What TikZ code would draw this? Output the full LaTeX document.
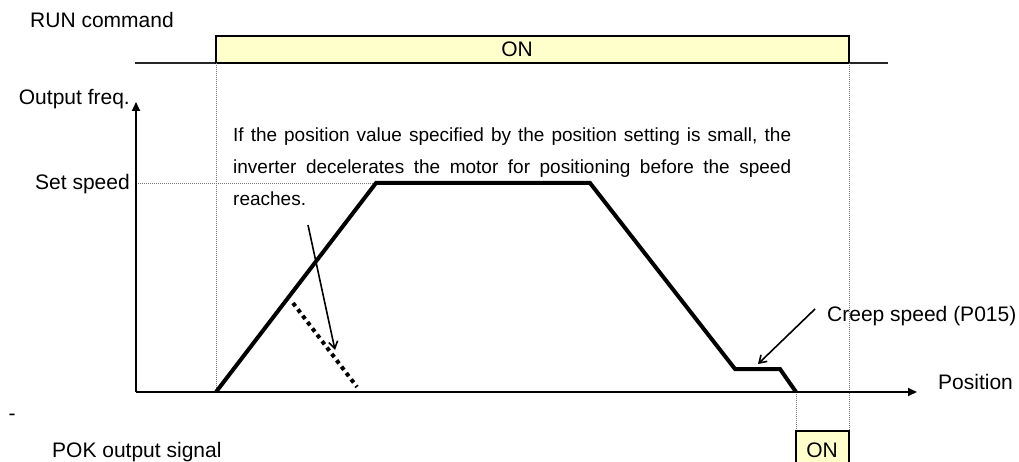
\documentclass[tikz,border=0pt]{standalone}
\usepackage{fontspec}
\setmainfont{Liberation Sans}
\usetikzlibrary{arrows.meta, positioning}
\definecolor{onyellow}{RGB}{255,255,204}

\begin{document}
\begin{tikzpicture}[
    x=1pt, y=-1pt,
    % Style definitions
    label/.style={inner sep=0pt, font=\fontsize{21}{25}\selectfont},
    note/.style={inner sep=0pt, text width=558pt, align=justify,
                 font=\fontsize{19}{32}\selectfont},
    signal/.style={draw=black, line width=1.7pt, fill=onyellow},
    guide/.style={draw=black!55, line width=0.9pt, dash pattern=on 1pt off 1pt},
    axis/.style={line width=2pt, -{Triangle[length=9pt, width=8pt]}},
    profile/.style={line width=4pt, line join=miter},
    pointer/.style={line width=1.6pt, -{Straight Barb[length=7pt, width=9pt]}},
]
\useasboundingbox (0,0) rectangle (1019,462);

% Key points
\coordinate (origin) at (136,392);
\coordinate (y_top) at (136,102);
\coordinate (x_end) at (917,392);
\coordinate (start) at (216,392);
\coordinate (acc_end) at (376,183);
\coordinate (dec_start) at (590,183);
\coordinate (creep_start) at (735,369);
\coordinate (creep_end) at (780,369);
\coordinate (stop) at (796,392);
\coordinate (run_on_start) at (216,63);
\coordinate (run_off) at (849,63);

% RUN command
\node[label, anchor=base west] (run) at (30,28) {RUN command};
\draw[line width=1.3pt, black!85] (135,63) -- (888,63);
\draw[signal] (216,36) rectangle (run_off);
\node[label, anchor=base] (run_on) at (517,57) {ON};

% Guide lines
\draw[guide] (run_on_start) -- (start);
\draw[guide] (run_off) -- (849,431);
\draw[guide] (stop) -- (796,431);
\draw[guide] (136,183) -- (acc_end);

% Axes
\draw[axis] (origin) -- (y_top);
\draw[axis] (origin) -- (x_end);
\node[label, anchor=base east] (freq) at (130,105) {Output freq.};
\node[label, anchor=base west] (pos) at (938,389) {Position};
\node[label, anchor=base east] (set) at (130,190) {Set speed};

% Speed profile
\draw[profile] (start) -- (acc_end) -- (dec_start) -- (creep_start)
    -- (creep_end) -- (stop);
\coordinate (short_a) at (293,303);
\coordinate (short_b) at (357,387);
\draw[line width=4pt, dash pattern=on 4pt off 4pt] (short_a) -- (short_b);

% Annotations
\node[note, anchor=base west] (info) at (233,142) {\hyphenpenalty=10000
    If the position value specified by the position setting is small, the\linebreak
    inverter decelerates the motor for positioning before the speed\linebreak
    reaches.};
\coordinate (info_tail) at (308,225);
\coordinate (info_head) at (335,350);
\draw[pointer] (info_tail) -- (info_head);
\node[label, anchor=base west] (creep) at (827,321) {Creep speed (P015)};
\coordinate (creep_tail) at (815,309);
\coordinate (creep_head) at (758,364);
\draw[pointer] (creep_tail) -- (creep_head);

% POK output signal
\node[label, anchor=base] (dash) at (12,420) {-};
\node[label, anchor=base west] (pok) at (52,457) {POK output signal};
\draw[signal] (796,431) rectangle (849,480);
\node[label, anchor=base] (pok_on) at (822,457) {ON};

\end{tikzpicture}
\end{document}
